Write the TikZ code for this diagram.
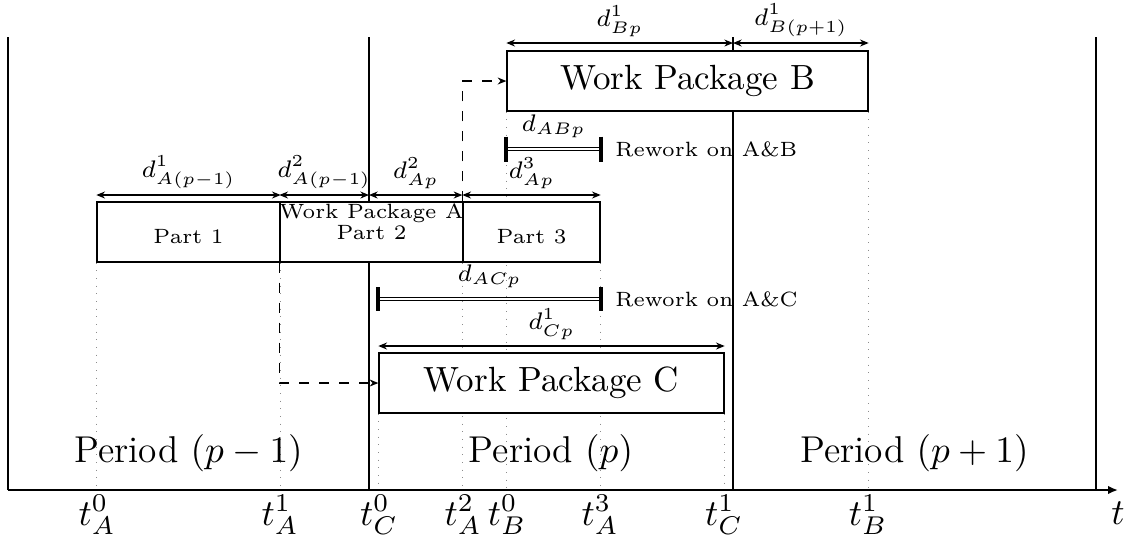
\RequirePackage{fix-cm}
\documentclass[tikz,border=0pt]{standalone}
\usepackage{fontspec}
\usetikzlibrary{arrows.meta,backgrounds}
\begin{document}
\begin{tikzpicture}[x=0.3pt,y=-0.3pt,
  >={Stealth[length=2.6pt,width=2.1pt]},
  period/.style={line width=0.4pt},
  guide/.style={dotted, black!45, line width=0.3pt},
  box/.style={draw, fill=white, line width=0.4pt, inner sep=0pt, minimum height=18pt},
  bigtext/.style={font=\fontsize{10.5}{12.6}\selectfont},
  periodtext/.style={font=\fontsize{11.2}{13.4}\selectfont, anchor=base},
  smalltext/.style={font=\fontsize{6.2}{6.4}\selectfont, inner sep=0pt},
  dim/.style={<->, line width=0.35pt},
  dlab/.style={font=\fontsize{7.2}{8.6}\selectfont, inner sep=0pt, anchor=south, yshift=1.6pt},
  link/.style={->, dashed, line width=0.4pt},
  rework/.style={draw=black, double=white, line width=0.35pt, double distance=0.6pt},
  barend/.style={line width=1.2pt},
  tlab/.style={font=\fontsize{11}{13}\selectfont, anchor=base, inner sep=0pt},
  reworklab/.style={font=\fontsize{6.2}{7.4}\selectfont, anchor=west, inner sep=0pt, xshift=4.2pt},
]
\useasboundingbox (0,0) rectangle (1124,540);

% period boundaries on the time axis
\coordinate (p0) at (8,490);
\coordinate (p1) at (369,490);
\coordinate (p2) at (733,490);
\coordinate (p3) at (1096,490);
\coordinate (tend) at (1118,490);

% heights of the dimension lines
\coordinate (dA) at (0,195);
\coordinate (dB) at (0,43);
\coordinate (dC) at (0,346);
\coordinate (rAB) at (0,149);
\coordinate (rAC) at (0,299);

% work packages
\node[box, minimum width=54.9pt] (P1) at (188.5,232) {};
\node[box, minimum width=54.9pt] (P2) at (371.5,232) {};
\node[box, minimum width=41.1pt] (P3) at (531.5,232) {};
\node[box, minimum width=108.3pt, bigtext] (B) at (687.5,81) {Work Package B};
\node[box, minimum width=103.5pt, bigtext] (C) at (551.5,383) {Work Package C};

\node[smalltext, yshift=-1.5pt] (P1t) at (P1.center) {Part 1};
\node[smalltext, align=center, yshift=3pt] (P2t) at (P2.center) {Work Package A\\Part 2};
\node[smalltext, yshift=-1.5pt] (P3t) at (P3.center) {Part 3};

\begin{scope}[on background layer]
  % period separators
  \foreach \p in {p0,p1,p2,p3} \draw[period] (\p) -- ++(0,-453);
  % guide lines down to the axis
  \draw[guide] (P1.south west) -- (P1.south west |- p0);
  \draw[guide] (P1.south east) -- (P1.south east |- p0);
  \draw[guide] (P3.south west) -- (P3.south west |- p0);
  \draw[guide] (P3.south east) -- (P3.south east |- p0);
  \draw[guide] (B.south west) -- (B.south west |- p0);
  \draw[guide] (B.south east) -- (B.south east |- p0);
  \draw[guide] (C.south west) -- (C.south west |- p0);
  \draw[guide] (C.south east) -- (C.south east |- p0);
\end{scope}

% time axis
\draw[->, line width=0.6pt, >={Latex[length=3pt,width=2.6pt]}] (p0) -- (tend);
\node[tlab] (tlabel) at (1118,524) {$t$};

% instants
\node[tlab] (lA0) at (97,525) {$t_A^0$};
\node[tlab] (lA1) at (280,525) {$t_A^1$};
\node[tlab] (lC0) at (379,525) {$t_C^0$};
\node[tlab] (lA2) at (463,525) {$t_A^2$};
\node[tlab] (lB0) at (507,525) {$t_B^0$};
\node[tlab] (lA3) at (600,525) {$t_A^3$};
\node[tlab] (lC1) at (724,525) {$t_C^1$};
\node[tlab] (lB1) at (868,525) {$t_B^1$};

% period names
\node[periodtext] (per0) at (188.5,462) {Period $(p-1)$};
\node[periodtext] (per1) at (551,462) {Period $(p)$};
\node[periodtext] (per2) at (914.5,462) {Period $(p+1)$};

% durations of work package A
\draw[dim] (P1.north west |- dA) -- node[dlab] {$d^1_{A(p-1)}$} (P1.north east |- dA);
\draw[dim] (P2.north west |- dA) -- node[dlab] {$d^2_{A(p-1)}$} (p1 |- dA);
\draw[dim] (p1 |- dA) -- node[dlab] {$d^2_{Ap}$} (P3.north west |- dA);
\draw[dim] (P3.north west |- dA) -- node[dlab] {$d^3_{Ap}$} (P3.north east |- dA);

% durations of work package B
\draw[dim] (B.north west |- dB) -- node[dlab] {$d^1_{Bp}$} (p2 |- dB);
\draw[dim] (p2 |- dB) -- node[dlab] {$d^1_{B(p+1)}$} (B.north east |- dB);

% duration of work package C
\draw[dim] (C.north west |- dC) -- node[dlab] {$d^1_{Cp}$} (C.north east |- dC);

% rework intervals
\coordinate (abL) at (B.south west |- rAB);
\coordinate (abR) at (P3.south east |- rAB);
\draw[rework] (abL) -- node[dlab, yshift=1.5pt] {$d_{ABp}$} (abR);
\draw[barend] (abL) ++(0,-12.5) -- ++(0,25);
\draw[barend] (abR) ++(0,-12.5) -- ++(0,25);
\node[reworklab] (rwAB) at (abR) {Rework on A\&B};

\coordinate (acL) at (C.south west |- rAC);
\coordinate (acR) at (P3.south east |- rAC);
\draw[rework] (acL) -- node[dlab, yshift=1.5pt] {$d_{ACp}$} (acR);
\draw[barend] (acL) ++(0,-12) -- ++(0,24);
\draw[barend] (acR) ++(0,-12) -- ++(0,24);
\node[reworklab] (rwAC) at (acR) {Rework on A\&C};

% dependencies between packages
\draw[link] (P2.south west) |- (C.west);
\draw[link] (P3.north west) |- (B.west);
\end{tikzpicture}
\end{document}
